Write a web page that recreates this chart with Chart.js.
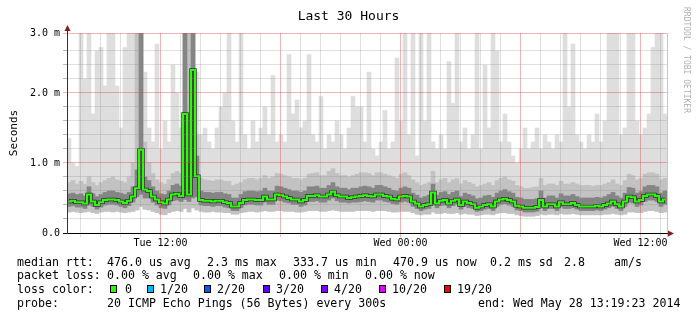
<!DOCTYPE html>
<html>
<head>
<meta charset="utf-8">
<script src="https://cdn.jsdelivr.net/npm/chart.js@4/dist/chart.umd.min.js"></script>
<style>
  body { margin: 0; background: #fff; }
  #wrap { position: relative; width: 697px; height: 321px; font-family: 'DejaVu Sans Mono', monospace; color: #000; }
  #graph { position: absolute; left: 0; top: 0; }
  #title { position: absolute; left: 0; top: 8px; width: 697px; text-align: center; font-size: 13px; line-height: 15px; }
  #credit { position: absolute; left: 682px; top: 7px; writing-mode: vertical-rl; font-size: 8px; color: #b0b0b0; }
  .t { position: absolute; white-space: pre; font-size: 11.6px; line-height: 14px; }
  .box { position: absolute; width: 5px; height: 6px; border: 1px solid #000; }
</style>
</head>
<body>
<div id="wrap">
  <canvas id="graph" width="697" height="321"></canvas>
  <div id="title">Last 30 Hours</div>
  <div id="credit">RRDTOOL / TOBI OETIKER</div>
  <div class="t" style="left:17px;top:255px">median rtt:</div>
  <div class="t" style="left:107px;top:255px">476.0 us avg</div>
  <div class="t" style="left:207px;top:255px">2.3 ms max</div>
  <div class="t" style="left:293px;top:255px">333.7 us min</div>
  <div class="t" style="left:393px;top:255px">470.9 us now</div>
  <div class="t" style="left:490px;top:255px">0.2 ms sd</div>
  <div class="t" style="left:564px;top:255px">2.8</div>
  <div class="t" style="left:614px;top:255px">am/s</div>
  <div class="t" style="left:17px;top:268px">packet loss:</div>
  <div class="t" style="left:107px;top:268px">0.00 % avg</div>
  <div class="t" style="left:193px;top:268px">0.00 % max</div>
  <div class="t" style="left:279px;top:268px">0.00 % min</div>
  <div class="t" style="left:365px;top:268px">0.00 % now</div>
  <div class="t" style="left:17px;top:282px">loss color:</div>
  <div id="losses"></div>
  <div class="t" style="left:17px;top:296px">probe:</div>
  <div class="t" style="left:107px;top:296px">20 ICMP Echo Pings (56 Bytes) every 300s</div>
  <div class="t" style="left:478px;top:296px">end: Wed May 28 13:19:23 2014</div>
</div>
<script>
// one slot = 12 minutes, first slot starts Tue 07:19:23, values in ms
var median = [
  0.45,0.46,0.44,0.44,0.42,0.55,0.45,0.40,0.44,0.47,
  0.48,0.48,0.47,0.45,0.43,0.46,0.52,0.64,1.19,0.62,
  0.60,0.52,0.48,0.44,0.42,0.48,0.55,0.56,0.53,1.70,
  0.55,2.33,0.81,0.47,0.46,0.46,0.45,0.46,0.46,0.44,
  0.43,0.38,0.38,0.43,0.47,0.48,0.48,0.47,0.47,0.52,
  0.48,0.48,0.55,0.54,0.52,0.50,0.48,0.48,0.45,0.47,
  0.53,0.53,0.54,0.52,0.52,0.55,0.59,0.54,0.52,0.52,
  0.50,0.51,0.52,0.53,0.54,0.53,0.52,0.55,0.55,0.53,
  0.52,0.49,0.48,0.52,0.53,0.52,0.45,0.42,0.38,0.40,
  0.41,0.58,0.42,0.46,0.47,0.42,0.46,0.48,0.40,0.45,
  0.43,0.41,0.36,0.38,0.40,0.41,0.38,0.45,0.48,0.49,
  0.47,0.45,0.39,0.38,0.36,0.36,0.36,0.37,0.47,0.38,
  0.41,0.41,0.38,0.44,0.41,0.41,0.43,0.40,0.38,0.38,
  0.38,0.38,0.39,0.38,0.40,0.42,0.45,0.41,0.38,0.45,
  0.52,0.51,0.45,0.47,0.53,0.55,0.55,0.53,0.45,0.48
];
var pingMin = [
  0.30,0.31,0.30,0.29,0.30,0.31,0.29,0.28,0.30,0.31,
  0.31,0.30,0.31,0.30,0.29,0.30,0.31,0.33,0.38,0.34,
  0.33,0.31,0.29,0.27,0.26,0.29,0.31,0.32,0.31,0.35,
  0.30,0.36,0.33,0.31,0.30,0.30,0.31,0.30,0.30,0.29,
  0.29,0.27,0.27,0.29,0.30,0.31,0.31,0.30,0.31,0.32,
  0.31,0.31,0.32,0.32,0.31,0.31,0.31,0.30,0.30,0.31,
  0.32,0.32,0.32,0.31,0.31,0.32,0.33,0.32,0.31,0.31,
  0.31,0.31,0.32,0.32,0.32,0.32,0.31,0.32,0.32,0.32,
  0.31,0.30,0.30,0.31,0.31,0.31,0.29,0.27,0.26,0.27,
  0.27,0.30,0.28,0.28,0.29,0.28,0.28,0.29,0.27,0.28,
  0.27,0.27,0.25,0.26,0.27,0.27,0.26,0.28,0.29,0.29,
  0.28,0.28,0.26,0.25,0.24,0.24,0.24,0.25,0.27,0.26,
  0.27,0.27,0.26,0.28,0.27,0.27,0.28,0.27,0.26,0.26,
  0.26,0.26,0.26,0.26,0.27,0.27,0.28,0.27,0.26,0.27,
  0.30,0.30,0.29,0.29,0.31,0.32,0.32,0.31,0.29,0.30
];
var smokeLow = [
  0.38,0.39,0.37,0.37,0.35,0.40,0.38,0.34,0.37,0.40,
  0.41,0.41,0.40,0.38,0.36,0.39,0.44,0.52,0.55,0.50,
  0.50,0.44,0.40,0.36,0.35,0.40,0.46,0.47,0.45,0.48,
  0.45,0.50,0.52,0.40,0.39,0.39,0.38,0.39,0.39,0.37,
  0.36,0.32,0.32,0.36,0.40,0.41,0.41,0.40,0.40,0.44,
  0.41,0.41,0.47,0.46,0.44,0.43,0.41,0.41,0.38,0.40,
  0.45,0.45,0.46,0.44,0.44,0.47,0.50,0.46,0.44,0.44,
  0.43,0.44,0.44,0.45,0.46,0.45,0.44,0.47,0.47,0.45,
  0.44,0.42,0.41,0.44,0.45,0.44,0.38,0.35,0.32,0.34,
  0.35,0.42,0.36,0.39,0.40,0.36,0.39,0.41,0.34,0.38,
  0.36,0.35,0.31,0.32,0.34,0.35,0.32,0.38,0.41,0.42,
  0.40,0.38,0.33,0.32,0.30,0.30,0.30,0.31,0.38,0.32,
  0.35,0.35,0.32,0.37,0.35,0.35,0.36,0.34,0.32,0.32,
  0.32,0.32,0.33,0.32,0.34,0.36,0.38,0.35,0.32,0.38,
  0.44,0.43,0.38,0.40,0.45,0.47,0.47,0.45,0.38,0.41
];
var smokeHigh = [
  0.56,0.57,0.55,0.56,0.53,0.66,0.56,0.52,0.55,0.58,
  0.60,0.60,0.58,0.57,0.55,0.58,0.66,0.90,3.00,0.80,
  0.75,0.66,0.60,0.56,0.55,0.60,0.68,0.70,0.67,3.00,
  1.00,3.00,1.10,0.60,0.58,0.58,0.57,0.58,0.58,0.56,
  0.55,0.50,0.50,0.55,0.59,0.60,0.60,0.59,0.60,0.64,
  0.60,0.60,0.67,0.66,0.64,0.62,0.60,0.60,0.58,0.60,
  0.66,0.66,0.67,0.64,0.64,0.68,0.72,0.66,0.64,0.64,
  0.62,0.64,0.64,0.66,0.67,0.66,0.64,0.68,0.68,0.66,
  0.64,0.61,0.60,0.64,0.66,0.64,0.57,0.54,0.50,0.52,
  0.54,0.70,0.54,0.58,0.59,0.55,0.58,0.60,0.52,0.57,
  0.55,0.53,0.49,0.50,0.53,0.54,0.51,0.57,0.60,0.62,
  0.59,0.57,0.51,0.50,0.48,0.48,0.48,0.49,0.60,0.50,
  0.53,0.53,0.50,0.56,0.53,0.53,0.55,0.52,0.50,0.50,
  0.50,0.50,0.51,0.50,0.52,0.55,0.58,0.53,0.50,0.57,
  0.65,0.64,0.57,0.59,0.66,0.68,0.68,0.66,0.57,0.60
];
var smokeTop = [
  0.72,0.75,0.70,0.74,0.70,0.80,0.72,0.68,0.72,0.75,
  0.78,0.80,0.76,0.74,0.72,0.80,1.00,3.00,3.00,1.30,
  1.00,0.85,0.76,0.72,0.70,0.76,0.85,0.88,0.85,3.00,
  3.00,3.00,1.40,0.78,0.76,0.75,0.74,0.76,0.76,0.74,
  0.74,0.68,0.70,0.72,0.76,0.78,0.78,0.76,0.78,0.82,
  0.78,0.80,0.85,0.84,0.82,0.80,0.78,0.78,0.76,0.78,
  0.84,0.85,0.86,0.82,0.82,0.88,0.92,0.85,0.82,0.82,
  0.80,0.82,0.84,0.86,0.86,0.85,0.82,0.86,0.86,0.84,
  0.82,0.80,0.78,0.84,0.86,0.82,0.76,0.72,0.68,0.70,
  0.72,0.88,0.72,0.76,0.78,0.72,0.76,0.78,0.70,0.75,
  0.72,0.70,0.66,0.68,0.70,0.72,0.68,0.75,0.78,0.80,
  0.76,0.74,0.68,0.66,0.64,0.64,0.65,0.66,0.78,0.68,
  0.70,0.70,0.68,0.74,0.70,0.70,0.72,0.70,0.68,0.68,
  0.68,0.67,0.68,0.68,0.70,0.72,0.76,0.70,0.68,0.75,
  0.84,0.82,0.76,0.78,0.84,0.86,0.86,0.84,0.76,0.78
];
var pingMax = [
  1.35,1.00,0.95,3.00,2.20,3.00,1.70,2.60,2.65,2.10,
  3.00,3.00,2.10,1.50,2.65,3.00,3.00,3.00,3.00,2.30,
  1.50,1.30,2.70,1.20,1.60,1.30,2.40,2.00,1.50,3.00,
  3.00,3.00,2.30,1.40,1.50,1.30,1.20,1.50,1.80,2.00,
  3.00,1.60,1.30,3.00,1.40,1.20,1.60,1.30,1.50,1.80,
  1.40,2.25,1.30,1.40,1.30,2.55,1.70,1.90,1.50,1.60,
  2.55,1.40,1.30,1.95,1.20,1.40,1.30,1.60,1.40,1.20,
  1.50,1.95,1.80,1.80,1.30,2.30,1.20,1.10,1.30,1.75,
  1.20,1.30,2.50,1.60,3.00,1.40,3.00,1.10,3.00,1.60,
  3.00,1.30,1.20,1.40,1.20,2.45,1.85,3.00,1.30,1.50,
  1.20,1.40,3.00,1.20,2.40,1.50,3.00,2.60,1.30,1.70,
  1.30,1.10,1.00,1.20,1.50,1.20,1.30,1.50,1.20,1.40,
  1.30,1.20,1.40,1.30,3.00,1.80,2.70,1.40,1.30,1.20,
  1.40,1.30,1.70,1.30,1.60,3.00,3.00,3.00,1.40,1.50,
  3.00,3.00,1.60,1.40,1.50,1.70,2.65,3.00,3.00,1.70
];

var lossLabels = ['0', '1/20', '2/20', '3/20', '4/20', '10/20', '19/20'];
var lossColors = ['#26ff00', '#00b8ff', '#0059ff', '#5e00ff', '#7e00ff', '#dd00ff', '#ff0000'];
var lossX = [110, 147, 204, 263, 321, 379, 444];

var startHour = 7 + 19 / 60 + 23 / 3600;   // Tue 07:19:23
var spanHours = 30;
var tickNames = { 12: 'Tue 12:00', 24: 'Wed 00:00', 36: 'Wed 12:00' };
var yTicks = [0, 0.2, 0.4, 0.6, 0.8, 1, 1.2, 1.4, 1.6, 1.8, 2, 2.2, 2.4, 2.6, 2.857];
var yLabels = { '0': '0.0', '1': '1.0 m', '2': '2.0 m', '2.857': '3.0 m' };

var losses = document.getElementById('losses');
lossLabels.forEach(function (l, i) {
    var b = document.createElement('div');
    b.className = 'box';
    b.style.left = lossX[i] + 'px';
    b.style.top = '285px';
    b.style.background = lossColors[i];
    losses.appendChild(b);
    var t = document.createElement('div');
    t.className = 't';
    t.style.left = (lossX[i] + (i == 0 ? 15 : 13)) + 'px';
    t.style.top = '282px';
    t.textContent = l;
    losses.appendChild(t);
});

var slots = [];
for (let i = 0; i < median.length; i++) {
    var m = Math.round(startHour * 60 + i * 12);
    slots.push(Math.floor(m / 60) % 24 + ':' + String(m % 60).padStart(2, '0'));
}
var hourTicks = [];
for (let h = 8; h <= 37; h++) hourTicks.push(h - startHour);
hourTicks.push(spanHours);

var minorGrid = 'rgba(140,140,140,0.28)';
var majorGrid = 'rgba(222,60,60,0.38)';

function floating(lo, hi) {
    return lo.map(function (v, i) { return [v, hi[i]]; });
}
function smoke(label, lo, hi, color, order) {
    return {
        type: 'bar', label: label, data: floating(lo, hi), backgroundColor: color,
        borderWidth: 0, barPercentage: 1, categoryPercentage: 1, grouped: false, order: order
    };
}

Chart.defaults.font.family = "'DejaVu Sans Mono', monospace";
Chart.defaults.color = '#000';

var arrows = {
    id: 'arrows',
    afterDraw: function (chart) {
        var ctx = chart.ctx, a = chart.chartArea;
        ctx.save();
        ctx.strokeStyle = '#1f1f1f';
        ctx.lineWidth = 1;
        ctx.beginPath();
        ctx.moveTo(a.left + 0.5, a.top); ctx.lineTo(a.left + 0.5, a.top - 3);
        ctx.moveTo(a.right, a.bottom + 0.5); ctx.lineTo(a.right + 2, a.bottom + 0.5);
        ctx.stroke();
        ctx.fillStyle = '#801f1f';
        ctx.beginPath();
        ctx.moveTo(a.left - 2.5, a.top - 2); ctx.lineTo(a.left + 3.5, a.top - 2); ctx.lineTo(a.left + 0.5, a.top - 8);
        ctx.fill();
        ctx.beginPath();
        ctx.moveTo(a.right + 1, a.bottom - 2.5); ctx.lineTo(a.right + 1, a.bottom + 3.5); ctx.lineTo(a.right + 7, a.bottom + 0.5);
        ctx.fill();
        ctx.restore();
    }
};

var chart = new Chart('graph', {
    type: 'bar',
    data: {
        labels: slots,
        datasets: [
            { type: 'line', label: 'median rtt', data: median, borderColor: '#26ff00', borderWidth: 2,
              pointRadius: 0, stepped: 'middle', order: 1 },
            { type: 'line', label: 'median core', data: median, borderColor: '#303030', borderWidth: 3.5,
              pointRadius: 0, stepped: 'middle', order: 2 },
            smoke('inner smoke', smokeLow, smokeHigh, '#858585', 3),
            smoke('smoke', pingMin, smokeTop, '#c2c2c2', 4),
            smoke('outer smoke', pingMin, pingMax, '#dedede', 5)
        ]
    },
    options: {
        responsive: false,
        animation: false,
        layout: { padding: { left: 0, top: 33, right: 30, bottom: 71 } },
        plugins: { legend: { display: false }, tooltip: { enabled: false } },
        scales: {
            x: { type: 'category', display: false, offset: true },
            x2: {
                type: 'linear', position: 'bottom', min: 0, max: spanHours, offset: false,
                afterBuildTicks: function (s) { s.ticks = hourTicks.map(function (v) { return { value: v }; }); },
                afterFit: function (s) { s.height = 17; },
                grid: {
                    z: 1, tickLength: 4, offset: false,
                    color: function (c) {
                        if (!c.tick) return minorGrid;
                        var v = c.tick.value;
                        if (v >= spanHours) return majorGrid;
                        return Math.round(v + startHour) % 6 == 0 ? majorGrid : minorGrid;
                    }
                },
                border: { color: '#000', width: 1, z: 2 },
                ticks: {
                    autoSkip: false, maxRotation: 0, minRotation: 0, padding: 0, font: { size: 10 },
                    callback: function (v) {
                        if (v >= spanHours) return '';
                        return tickNames[Math.round(v + startHour)] || '';
                    }
                }
            },
            y: {
                min: 0, max: 2.857,
                afterBuildTicks: function (s) { s.ticks = yTicks.map(function (v) { return { value: v }; }); },
                afterFit: function (s) { s.width = 67; },
                grid: {
                    z: 1, tickLength: 4,
                    color: function (c) {
                        if (!c.tick) return minorGrid;
                        var v = c.tick.value;
                        if (v === 0) return 'rgba(0,0,0,0)';
                        return yLabels[String(v)] ? majorGrid : minorGrid;
                    },
                    tickColor: function (c) {
                        if (c.tick && c.tick.value === 0) return '#000';
                        return c.tick && yLabels[String(c.tick.value)] ? majorGrid : 'rgba(140,140,140,0.6)';
                    }
                },
                border: { color: '#333', width: 1, z: 2 },
                ticks: {
                    autoSkip: false, padding: 3, font: { size: 10 },
                    callback: function (v) { return yLabels[String(v)] || ''; }
                },
                title: { display: true, text: 'Seconds', font: { size: 11 }, padding: { top: 8, bottom: 0 } }
            }
        }
    },
    plugins: [arrows]
});
</script>
</body>
</html>
